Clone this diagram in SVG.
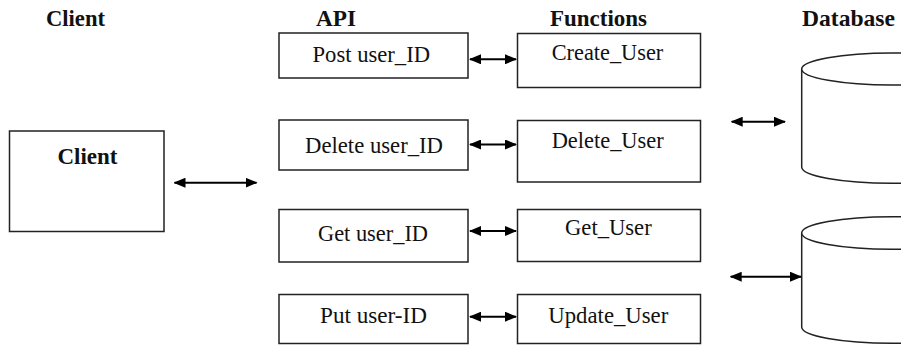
<svg xmlns="http://www.w3.org/2000/svg" width="901" height="345" viewBox="0 0 901 345">
<style>
.box{fill:#fff;stroke:#222;stroke-width:1.5}
.cyl{fill:#fff;stroke:#222;stroke-width:1.5}
text{font-family:'Liberation Serif','DejaVu Serif','Times New Roman',serif;font-size:24px;fill:#111}
.b{font-weight:bold}
.c{stroke:#000;stroke-width:2;fill:none;marker-start:url(#ah);marker-end:url(#ah)}
</style>
<defs>
<marker id="ah" viewBox="0 0 12 10" refX="11" refY="5" markerWidth="12" markerHeight="10" markerUnits="userSpaceOnUse" orient="auto-start-reverse">
<path d="M0,0 L12,5 L0,10 Z" fill="#000"/>
</marker>
</defs>
<rect width="901" height="345" fill="#fff"/>
<g id="headers" font-family="Liberation Serif, serif">
<text class="b" x="46" y="26" textLength="59" lengthAdjust="spacingAndGlyphs">Client</text>
<text class="b" x="316" y="26" textLength="40" lengthAdjust="spacingAndGlyphs">API</text>
<text class="b" x="550" y="26" textLength="97" lengthAdjust="spacingAndGlyphs">Functions</text>
<text class="b" x="802" y="26" textLength="93" lengthAdjust="spacingAndGlyphs">Database</text>
</g>
<g id="client">
<rect class="box" x="9.5" y="131" width="154.5" height="100.5"/>
<text class="b" x="57.5" y="163.5" textLength="60" lengthAdjust="spacingAndGlyphs">Client</text>
</g>
<g id="api-post">
<rect class="box" x="279" y="33" width="189" height="45"/>
<text x="312.5" y="61.5" textLength="117.5" lengthAdjust="spacingAndGlyphs">Post user_ID</text>
</g>
<g id="api-delete">
<rect class="box" x="279" y="120" width="189" height="50"/>
<text x="305" y="153" textLength="138" lengthAdjust="spacingAndGlyphs">Delete user_ID</text>
</g>
<g id="api-get">
<rect class="box" x="279" y="209.5" width="189" height="52.5"/>
<text x="318" y="240.5" textLength="110" lengthAdjust="spacingAndGlyphs">Get user_ID</text>
</g>
<g id="api-put">
<rect class="box" x="279" y="294.5" width="189" height="49"/>
<text x="320" y="322.5" textLength="107" lengthAdjust="spacingAndGlyphs">Put user-ID</text>
</g>
<g id="fn-create">
<rect class="box" x="517.5" y="33.5" width="183" height="54"/>
<text x="551.7" y="60" textLength="111.6" lengthAdjust="spacingAndGlyphs">Create_User</text>
</g>
<g id="fn-delete">
<rect class="box" x="517.5" y="120.5" width="183" height="61.5"/>
<text x="551.7" y="148.3" textLength="112" lengthAdjust="spacingAndGlyphs">Delete_User</text>
</g>
<g id="fn-get">
<rect class="box" x="517.5" y="209.5" width="183" height="52"/>
<text x="565" y="235" textLength="86.7" lengthAdjust="spacingAndGlyphs">Get_User</text>
</g>
<g id="fn-update">
<rect class="box" x="517.5" y="294.5" width="183" height="49"/>
<text x="548.3" y="322.7" textLength="120" lengthAdjust="spacingAndGlyphs">Update_User</text>
</g>
<g id="db1">
<path class="cyl" d="M801.7,69 L801.7,167 A90,16.3 0 0 0 981.7,167 L981.7,69 A90,16 0 0 0 801.7,69 Z"/>
<path class="cyl" fill="none" d="M801.7,69 A90,16 0 0 0 981.7,69"/>
</g>
<g id="db2">
<path class="cyl" d="M801.7,233 L801.7,327 A90,16.3 0 0 0 981.7,327 L981.7,233 A90,16.3 0 0 0 801.7,233 Z"/>
<path class="cyl" fill="none" d="M801.7,233 A90,16.3 0 0 0 981.7,233"/>
</g>
<g id="connectors">
<line class="c" x1="174.5" y1="182.7" x2="256.5" y2="182.7"/>
<line class="c" x1="470" y1="59.3" x2="516" y2="59.3"/>
<line class="c" x1="470" y1="144.5" x2="516" y2="144.5"/>
<line class="c" x1="470" y1="231" x2="516" y2="231"/>
<line class="c" x1="470" y1="316.7" x2="516" y2="316.7"/>
<line class="c" x1="731.7" y1="121.7" x2="785" y2="121.7"/>
<line class="c" x1="730.7" y1="276.7" x2="801" y2="276.7"/>
</g>
</svg>
